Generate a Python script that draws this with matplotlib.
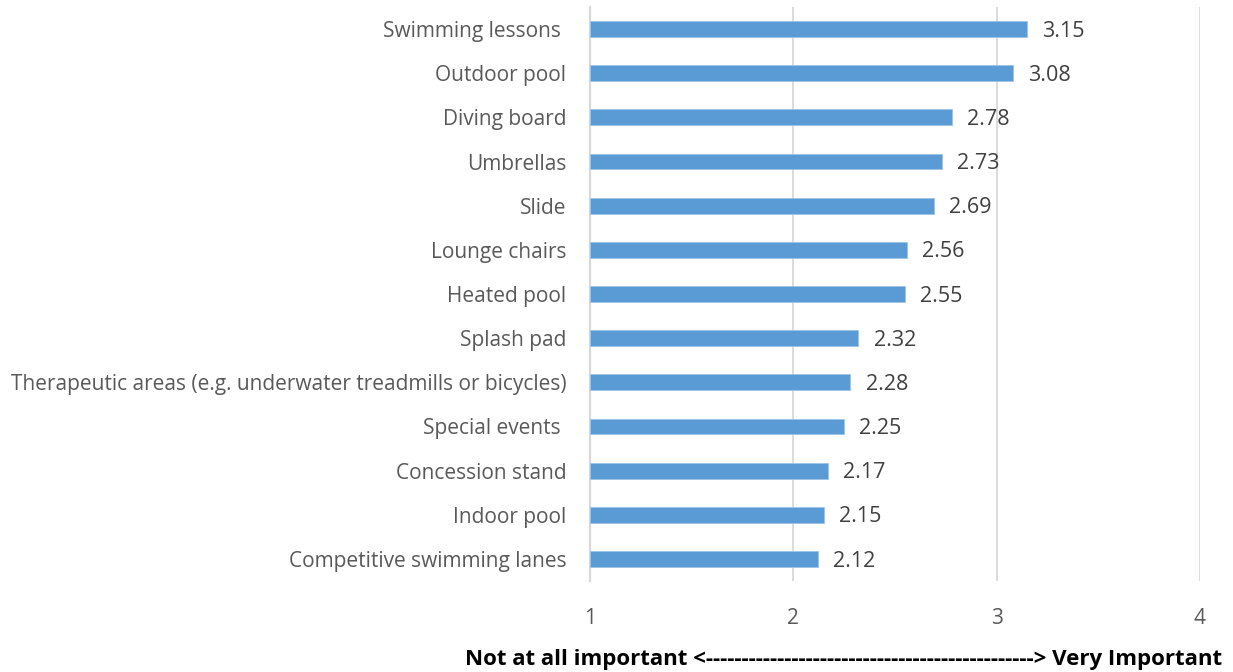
import matplotlib
matplotlib.use("Agg")
import matplotlib.pyplot as plt

# survey items, bottom to top
categories = [
    "Competitive swimming lanes",
    "Indoor pool",
    "Concession stand",
    "Special events ",
    "Therapeutic areas (e.g. underwater treadmills or bicycles)",
    "Splash pad",
    "Heated pool",
    "Lounge chairs",
    "Slide",
    "Umbrellas",
    "Diving board",
    "Outdoor pool",
    "Swimming lessons ",
]
scores = [2.12, 2.15, 2.17, 2.25, 2.28, 2.32, 2.55, 2.56, 2.69, 2.73, 2.78, 3.08, 3.15]
x_ticks = [1, 2, 3, 4]
scale_label = "Not at all important <" + "-" * 46 + "> Very Important"

plt.rcParams['font.family'] = ['Open Sans', 'DejaVu Sans']

fig = plt.figure(figsize=(12.33, 6.72), dpi=100)
ax = fig.add_axes([0.4785, 0.1354, 0.4947, 0.8542])

ypos = list(range(len(categories)))
bar_base = x_ticks[0]
ax.barh(ypos, [s - bar_base for s in scores], left=bar_base, height=0.36,
        color='#5B9BD5', edgecolor='#9DC3E6', linewidth=0.6, zorder=3)

# value labels just right of each bar
for y, s in zip(ypos, scores):
    ax.annotate(f"{s:.2f}", xy=(s, y), xytext=(11, -1.5), textcoords='offset points',
                ha='left', va='center', fontsize=15.5, color='#404040')

ax.set_xlim(x_ticks[0], x_ticks[-1])
ax.set_ylim(-0.5, len(categories) - 0.5)
ax.set_xticks(x_ticks)
ax.set_xticklabels([str(t) for t in x_ticks])
ax.set_yticks(ypos)
ax.set_yticklabels(categories)

ax.grid(axis='x', color='#D9D9D9', linewidth=1.3, zorder=0)
ax.set_axisbelow(True)
for side in ['top', 'right', 'bottom']:
    ax.spines[side].set_visible(False)
ax.spines['left'].set_color('#D9D9D9')
ax.spines['left'].set_linewidth(1.6)

ax.tick_params(axis='x', length=0, pad=19.5, labelsize=15, labelcolor='#595959')
ax.tick_params(axis='y', length=0, pad=17, labelsize=15, labelcolor='#595959')

fig.text(1222 / 1233, 1 - 660 / 672, scale_label, ha='right', va='center',
         fontsize=16, fontweight='bold', color='black')

fig.savefig("out.png", dpi=100)
